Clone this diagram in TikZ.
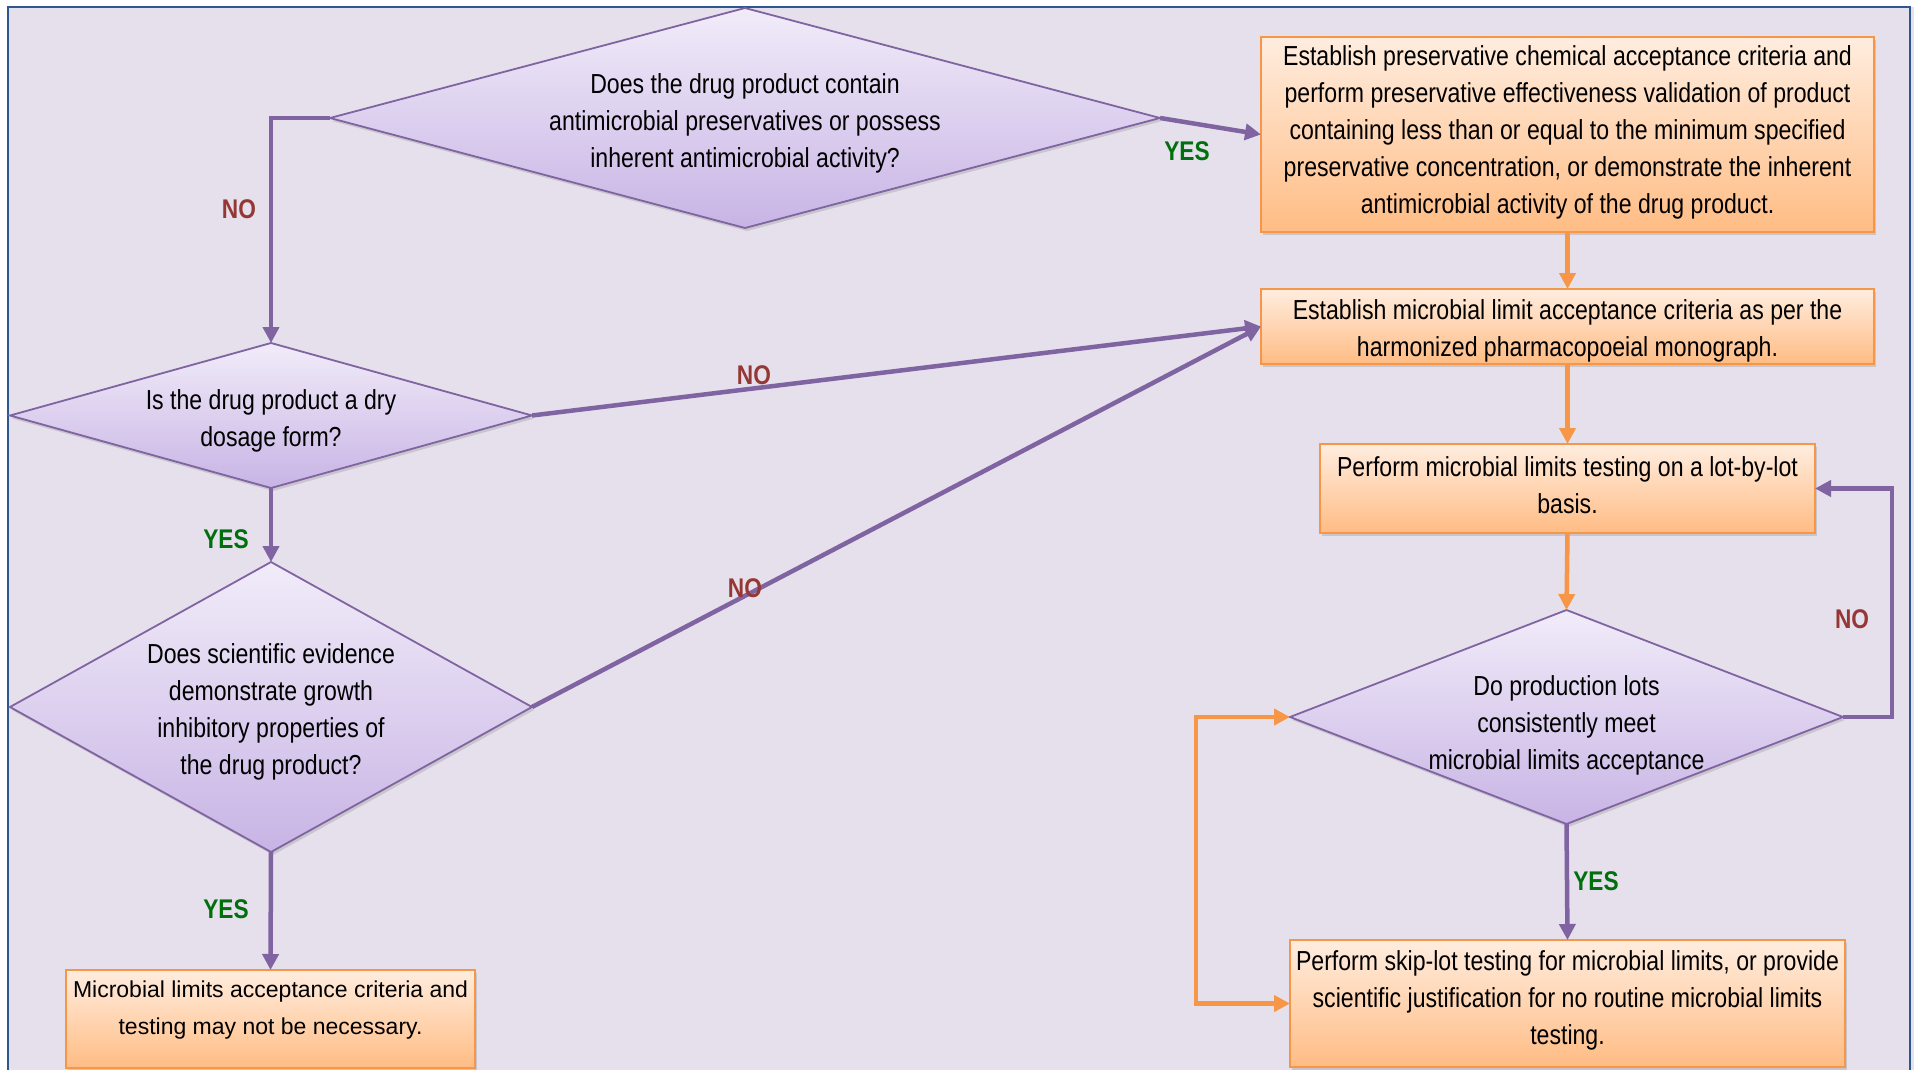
\documentclass[tikz,border=0pt]{standalone}
\usepackage{fontspec}
\setmainfont{Liberation Sans}
\newfontfamily\narrowsf[FakeStretch=0.84]{Liberation Sans}
\usetikzlibrary{arrows.meta,shapes.geometric,shadows}

\definecolor{pagebg}{HTML}{E5E0EC}
\definecolor{frameblue}{HTML}{2C5790}
\definecolor{violetline}{HTML}{8064A2}
\definecolor{diatop}{HTML}{F1ECF9}
\definecolor{diabot}{HTML}{C8B4E5}
\definecolor{boxtop}{HTML}{FFEDDF}
\definecolor{boxbot}{HTML}{FFBC84}
\definecolor{orangeline}{HTML}{F79646}
\definecolor{nored}{HTML}{953735}
\definecolor{yesgreen}{HTML}{00700C}

\begin{document}
\begin{tikzpicture}[x=1pt,y=-1pt,
  softshadow/.style={drop shadow={opacity=0.28,shadow xshift=2pt,shadow yshift=-3pt}},
  dia/.style={diamond,draw=violetline,line width=1.8pt,top color=diatop,bottom color=diabot,
    inner sep=0pt,outer sep=0pt,softshadow},
  stepbox/.style={rectangle,draw=orangeline,line width=2pt,top color=boxtop,bottom color=boxbot,
    inner sep=0pt,outer sep=0pt,softshadow},
  qtext/.style={align=center,inner sep=0pt,font=\narrowsf\fontsize{27.5}{37}\selectfont},
  plaintext/.style={align=center,inner sep=0pt,font=\fontsize{23}{37}\selectfont},
  vio/.style={draw=violetline,line width=4.5pt,-{Triangle[length=16pt,width=16pt]}},
  ora/.style={draw=orangeline,line width=4.5pt,-{Triangle[length=16pt,width=16pt]}},
  notag/.style={text=nored,font=\narrowsf\bfseries\fontsize{27}{27}\selectfont,inner sep=0pt},
  yestag/.style={text=yesgreen,font=\narrowsf\bfseries\fontsize{27}{27}\selectfont,inner sep=0pt}]

\useasboundingbox (0,0) rectangle (1914,1070);
% page panel
\fill[pagebg] (8,7) rectangle (1914,1075);
\draw[frameblue,line width=2.5pt] (8,1075) -- (8,7) -- (1910,7) -- (1910,1075);

% decisions
\node[dia,minimum width=830pt,minimum height=220pt] (d1) at (745,118) {};
\node[qtext] (d1t) at (745,123) {Does the drug product contain\\antimicrobial preservatives or possess\\inherent antimicrobial activity?};

\node[dia,minimum width=522pt,minimum height=145pt] (d2) at (271,415.5) {};
\node[qtext] (d2t) at (271,421) {Is the drug product a dry\\dosage form?};

\node[dia,minimum width=522pt,minimum height=290pt] (d3) at (271,707) {};
\node[qtext] (d3t) at (271,712) {Does scientific evidence\\demonstrate growth\\inhibitory properties of\\the drug product?};

\node[dia,minimum width=553pt,minimum height=214pt] (d4) at (1566.5,717) {};
\node[qtext] (d4t) at (1566.5,725) {Do production lots\\consistently meet\\microbial limits acceptance};

% actions
\node[stepbox,minimum width=613pt,minimum height=195pt] (b1) at (1567.5,134.5) {};
\node[qtext] (b1t) at (1567.5,132.5) {Establish preservative chemical acceptance criteria and\\perform preservative effectiveness validation of product\\containing less than or equal to the minimum specified\\preservative concentration, or demonstrate the inherent\\antimicrobial activity of the drug product.};

\node[stepbox,minimum width=613pt,minimum height=75pt] (b2) at (1567.5,326.5) {};
\node[qtext] (b2t) at (1567.5,331) {Establish microbial limit acceptance criteria as per the\\harmonized pharmacopoeial monograph.};

\node[stepbox,minimum width=495pt,minimum height=89pt] (b3) at (1567.5,488.5) {};
\node[qtext] (b3t) at (1567.5,485) {Perform microbial limits testing on a lot-by-lot\\basis.};

\node[stepbox,minimum width=555pt,minimum height=127pt] (b4) at (1567.5,1003.5) {};
\node[qtext] (b4t) at (1567.5,1000.5) {Perform skip-lot testing for microbial limits, or provide\\scientific justification for no routine microbial limits\\testing.};

\node[stepbox,minimum width=409pt,minimum height=98pt] (b5) at (270.5,1019) {};
\node[plaintext] (b5t) at (270.5,1010.5) {Microbial limits acceptance criteria and\\testing may not be necessary.};

% connectors
\coordinate (rloop) at (1892,717);
\coordinate (lloop) at (1196,1003.5);

\draw[vio] (d1.west) -| (d2.north);
\draw[vio] (d1.east) -- (b1.west);
\draw[ora] (b1.south) -- (b2.north);
\draw[ora] (b2.south) -- (b3.north);
\draw[ora] (b3.south) -- (d4.north);
\draw[vio] (d4.east) -- (rloop) |- (b3.east);
\draw[vio] (d4.south) -- (b4.north);
\draw[ora,{Triangle[length=16pt,width=16pt]}-{Triangle[length=16pt,width=16pt]}] (d4.west) -| (lloop) -- (b4.west);
\draw[vio] (d2.east) -- (b2.west);
\draw[vio] (d3.east) -- (b2.west);
\draw[vio] (d2.south) -- (d3.north);
\draw[vio] (d3.south) -- (b5.north);

% branch labels
\node[notag] (n1) at (239,209) {NO};
\node[yestag] (y1) at (1187,151) {YES};
\node[notag] (n2) at (754,375) {NO};
\node[notag] (n3) at (745,588) {NO};
\node[yestag] (y2) at (226,539) {YES};
\node[yestag] (y3) at (226,909) {YES};
\node[notag] (n4) at (1852,619) {NO};
\node[yestag] (y4) at (1596,881) {YES};
\end{tikzpicture}
\end{document}
